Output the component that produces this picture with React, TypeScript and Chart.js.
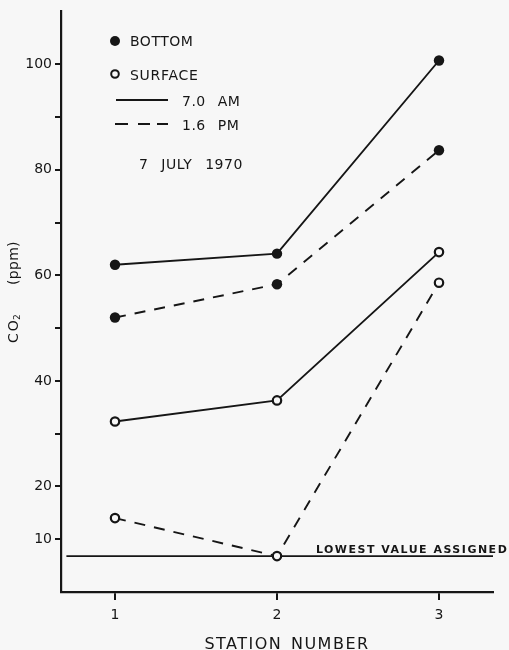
import React, { useEffect, useRef } from "react";
import { Chart, registerables } from "chart.js";

Chart.register(...registerables);

// ---- data ----
const stations = [1, 2, 3];
const stationLabels = ["1", "2", "3"];
const bottomAM = [62.0, 64.1, 100.7];
const bottomPM = [52.0, 58.3, 83.7];
const surfaceAM = [32.3, 36.3, 64.4];
const surfacePM = [14.0, 6.8, 58.6];
const lowestValue = 6.8;
const lowestLineX = [0.7, 3.335];
const yTickValues = [10, 20, 30, 40, 50, 60, 70, 80, 90, 100];
const yTickLabels = [10, 20, 40, 60, 80, 100];

const INK = "#161616";
const BG = "#f7f7f7";
const FONT = "'DejaVu Sans', sans-serif";

const pts = (ys: number[]) => stations.map((x, i) => ({ x, y: ys[i] }));

const paperPlugin = {
  id: "paper",
  beforeDraw(chart: any) {
    const ctx = chart.ctx;
    ctx.save();
    ctx.fillStyle = BG;
    ctx.fillRect(0, 0, chart.width, chart.height);
    ctx.restore();
  },
  afterDraw(chart: any) {
    const ctx = chart.ctx as CanvasRenderingContext2D;
    const xs = chart.scales.x;
    const ys = chart.scales.y;
    ctx.save();
    ctx.fillStyle = INK;
    ctx.strokeStyle = INK;
    ctx.textAlign = "left";
    ctx.textBaseline = "alphabetic";
    const setSp = (l: number, w: number) => {
      (ctx as any).letterSpacing = l + "px";
      (ctx as any).wordSpacing = w + "px";
    };

    // legend
    ctx.font = `14px ${FONT}`;
    ctx.beginPath();
    ctx.arc(115, 41, 5, 0, Math.PI * 2);
    ctx.fill();
    setSp(0.5, 0);
    ctx.fillText("BOTTOM", 130, 46);

    ctx.lineWidth = 2;
    ctx.beginPath();
    ctx.arc(115, 74, 3.8, 0, Math.PI * 2);
    ctx.stroke();
    setSp(0.7, 0);
    ctx.fillText("SURFACE", 130, 79.5);

    ctx.lineWidth = 1.8;
    ctx.beginPath();
    ctx.moveTo(116, 100);
    ctx.lineTo(168, 100);
    ctx.stroke();
    setSp(0.5, 7);
    ctx.fillText("7.0 AM", 182, 106);

    ctx.beginPath();
    [[115, 128], [138, 150], [157, 168]].forEach(([a, b]) => {
      ctx.moveTo(a, 124);
      ctx.lineTo(b, 124);
    });
    ctx.stroke();
    ctx.fillText("1.6 PM", 182, 129.5);

    setSp(0.5, 8);
    ctx.fillText("7 JULY 1970", 139, 169);

    // lowest value label
    ctx.font = `bold 11px ${FONT}`;
    setSp(1.5, 0);
    ctx.fillText("LOWEST VALUE ASSIGNED", xs.getPixelForValue(2.24), ys.getPixelForValue(lowestValue) - 3);

    // x title
    ctx.font = `16px ${FONT}`;
    setSp(1.5, 2);
    ctx.textAlign = "center";
    ctx.fillText("STATION NUMBER", 287, 649);

    // y title (rotated)
    ctx.translate(18, 343);
    ctx.rotate(-Math.PI / 2);
    ctx.textAlign = "left";
    ctx.font = `14px ${FONT}`;
    setSp(2, 0);
    ctx.fillText("CO", 0, 0);
    ctx.font = `9px ${FONT}`;
    setSp(0, 0);
    ctx.fillText("2", 23, 2);
    ctx.font = `14px ${FONT}`;
    setSp(0.3, 0);
    ctx.fillText("(ppm)", 58, 0);

    ctx.restore();
  },
};

export default function App() {
  const ref = useRef<HTMLCanvasElement>(null);
  useEffect(() => {
    if (!ref.current) return;
    const lineBase = {
      borderColor: INK,
      borderWidth: 1.9,
      tension: 0,
      fill: false,
    };
    const chart = new Chart(ref.current, {
      type: "line",
      data: {
        datasets: [
          {
            ...lineBase,
            label: "bottom AM",
            data: pts(bottomAM),
            pointRadius: 5.2,
            pointBackgroundColor: INK,
            pointBorderColor: INK,
            pointBorderWidth: 0,
            order: 1,
          },
          {
            ...lineBase,
            label: "bottom PM",
            data: pts(bottomPM),
            borderDash: [11, 9],
            pointRadius: 5.2,
            pointBackgroundColor: INK,
            pointBorderColor: INK,
            pointBorderWidth: 0,
            order: 2,
          },
          {
            ...lineBase,
            label: "surface AM",
            data: pts(surfaceAM),
            pointRadius: 4.2,
            pointBackgroundColor: BG,
            pointBorderColor: INK,
            pointBorderWidth: 2.2,
            order: 3,
          },
          {
            ...lineBase,
            label: "surface PM",
            data: pts(surfacePM),
            borderDash: [11, 9],
            pointRadius: 4.2,
            pointBackgroundColor: BG,
            pointBorderColor: INK,
            pointBorderWidth: 2.2,
            order: 4,
          },
          {
            ...lineBase,
            label: "lowest",
            data: lowestLineX.map((x) => ({ x, y: lowestValue })),
            borderWidth: 1.8,
            pointRadius: 0,
            order: 10,
          },
        ],
      },
      options: {
        animation: false,
        responsive: false,
        maintainAspectRatio: false,
        layout: { padding: { top: 8, right: 16, left: 0, bottom: 0 } },
        plugins: { legend: { display: false }, tooltip: { enabled: false } },
        scales: {
          x: {
            type: "linear",
            min: 2 / 3,
            max: 10 / 3,
            afterBuildTicks: (s: any) => {
              s.ticks = stations.map((v) => ({ value: v }));
            },
            afterFit: (s: any) => {
              s.height = 58;
            },
            ticks: {
              callback: (v: any) => {
                const i = stations.indexOf(Number(v));
                return i >= 0 ? stationLabels[i] : "";
              },
              font: { family: FONT, size: 14 },
              color: INK,
              padding: 7,
              maxRotation: 0,
            },
            grid: { drawOnChartArea: false, drawTicks: true, tickLength: 8, color: INK, lineWidth: 2 },
            border: { display: true, color: INK, width: 2.2 },
          },
          y: {
            type: "linear",
            min: 0,
            max: 110,
            afterBuildTicks: (s: any) => {
              s.ticks = yTickValues.map((v) => ({ value: v }));
            },
            afterFit: (s: any) => {
              s.width = 61;
            },
            ticks: {
              callback: (v: any) => (yTickLabels.includes(Number(v)) ? String(v) : ""),
              font: { family: FONT, size: 14 },
              color: INK,
              padding: 3,
            },
            grid: { drawOnChartArea: false, drawTicks: true, tickLength: 6, color: INK, lineWidth: 2 },
            border: { display: true, color: INK, width: 2.2 },
          },
        },
      },
      plugins: [paperPlugin],
    } as any);
    return () => chart.destroy();
  }, []);
  return (
    <div style={{ position: "absolute", left: 0, top: 0, width: 509, height: 650 }}>
      <canvas ref={ref} width={509} height={650} style={{ display: "block", width: 509, height: 650 }} />
    </div>
  );
}
